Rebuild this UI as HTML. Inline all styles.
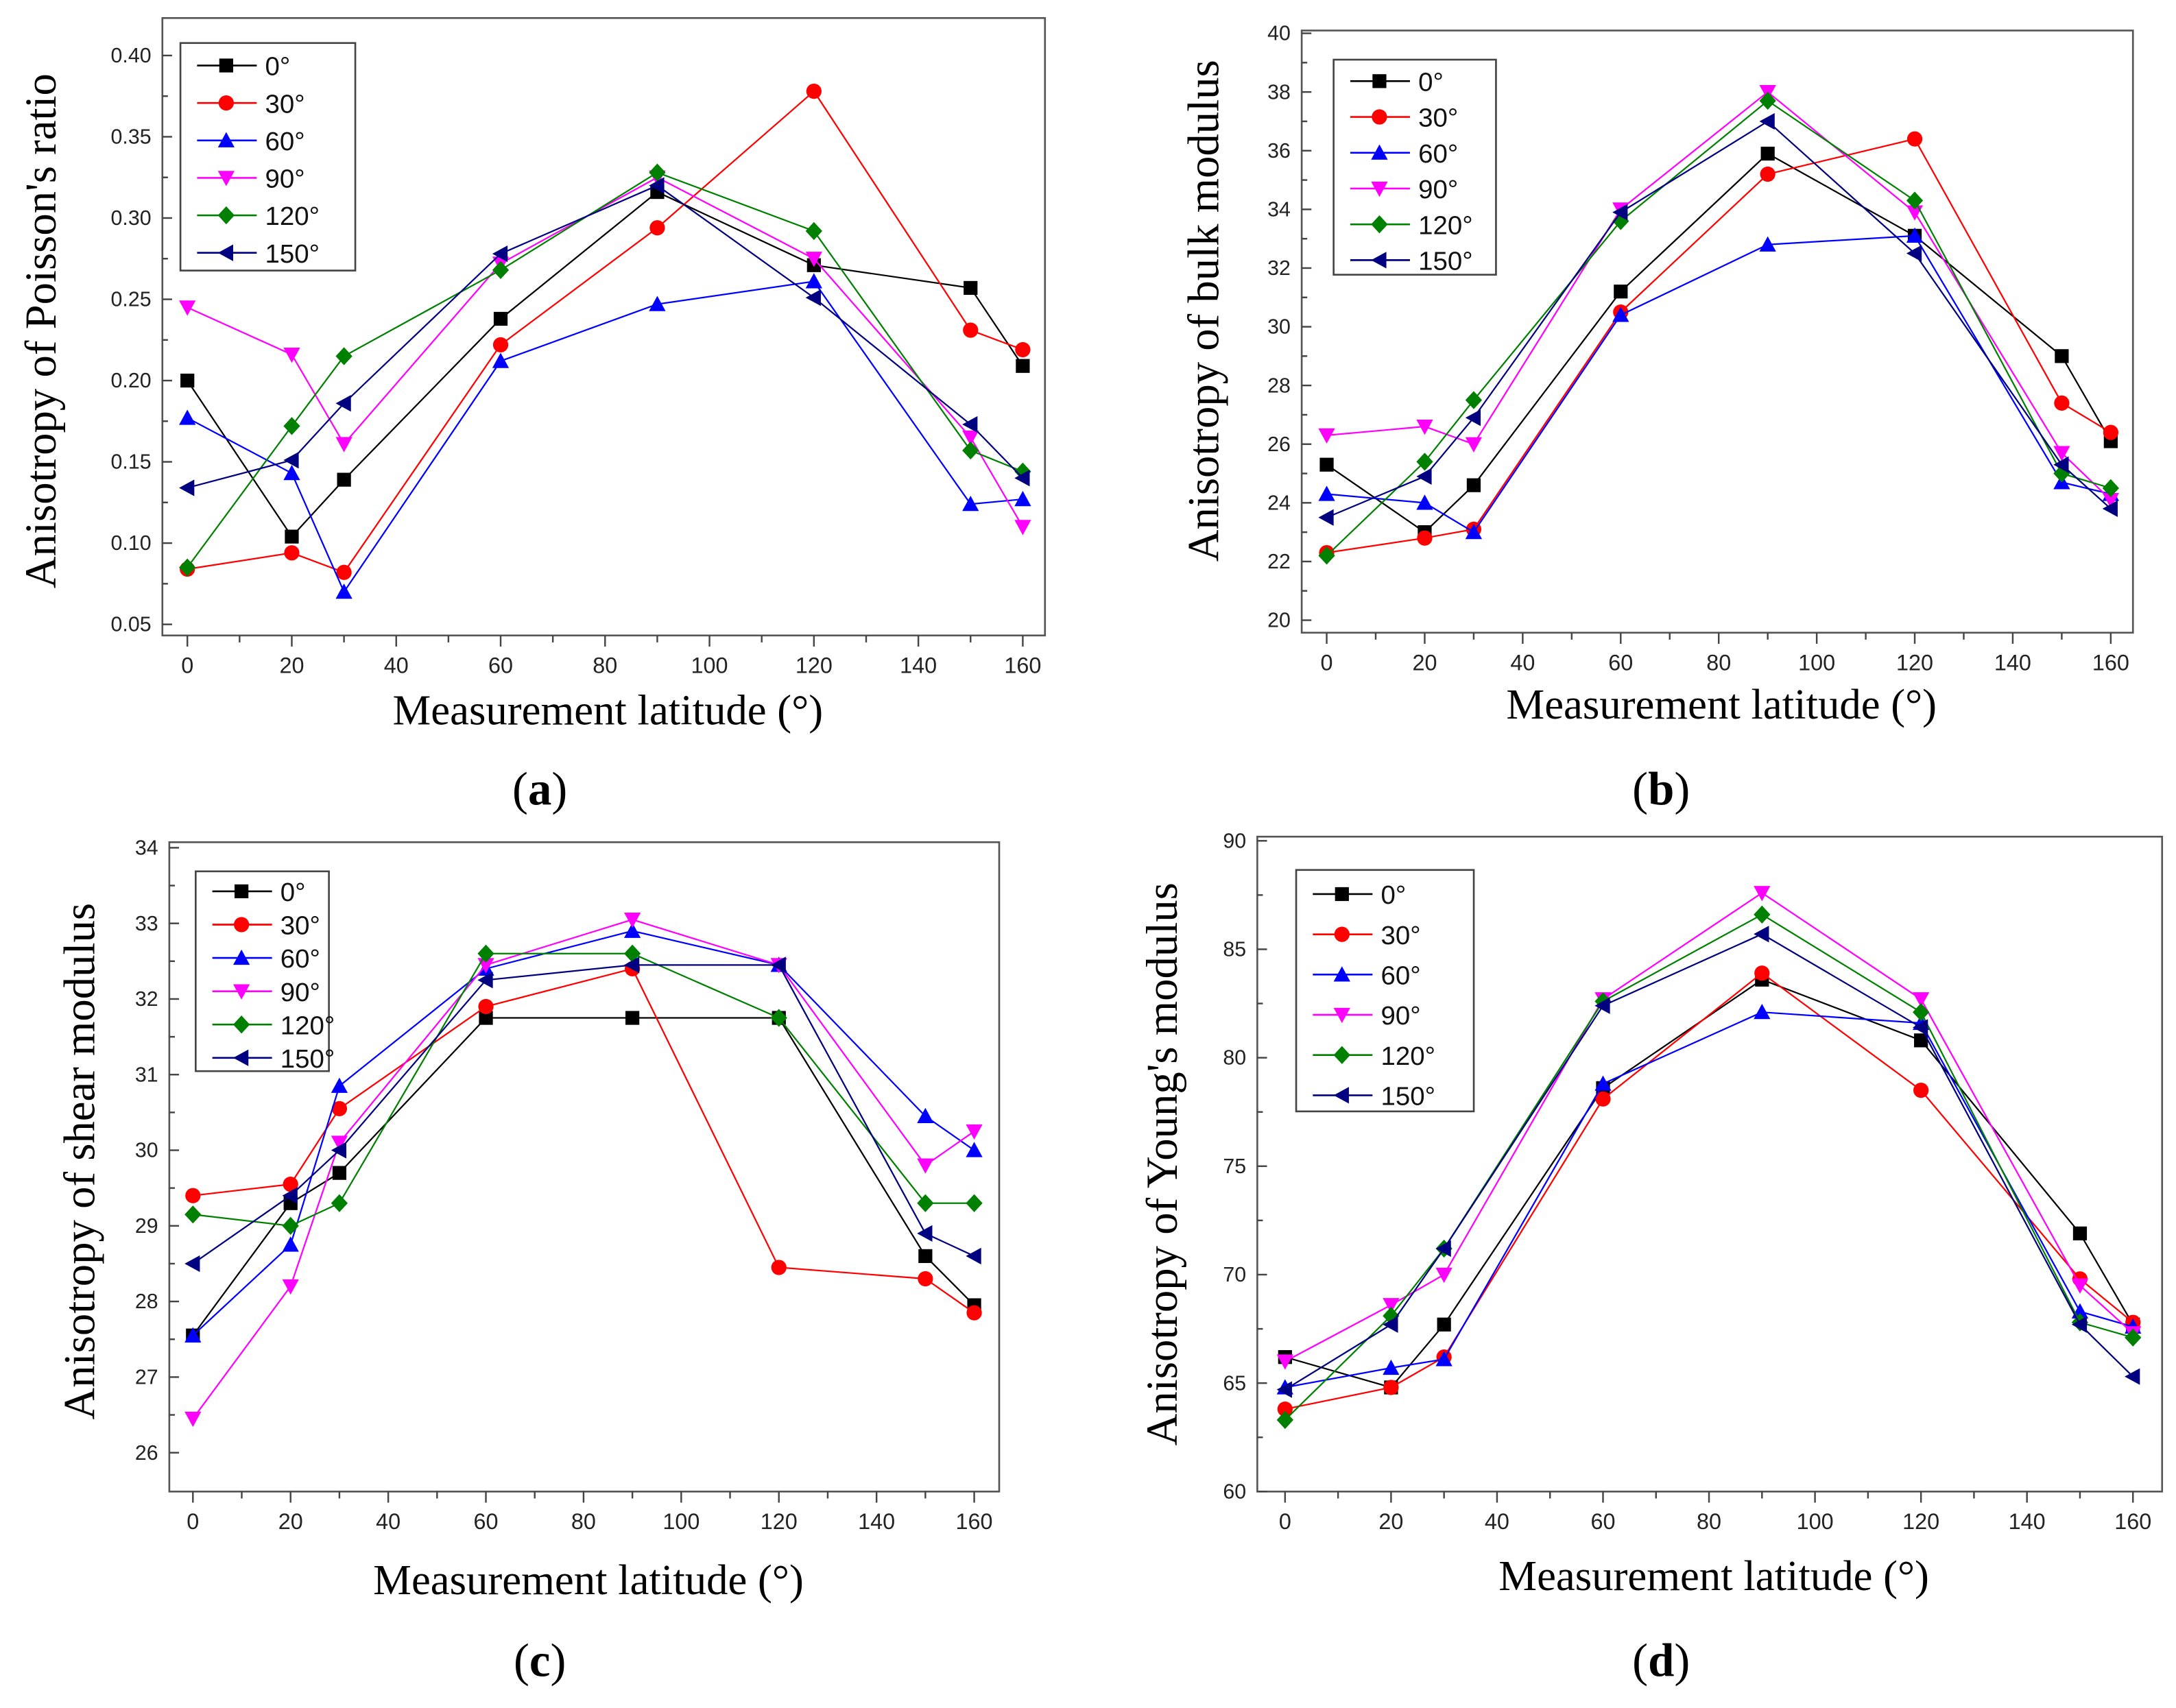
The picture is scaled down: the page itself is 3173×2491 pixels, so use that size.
<!DOCTYPE html>
<html><head><meta charset="utf-8"><style>
html,body{margin:0;padding:0;background:#fff;}
svg{display:block;}
</style></head><body>
<svg id="fig" width="3173" height="2491" viewBox="0 0 1568 1231" xmlns="http://www.w3.org/2000/svg"></svg>
<script>
const xCats = [0,20,30,60,90,120,150,160];
const seriesNames = ["0°","30°","60°","90°","120°","150°"];
const xTicks = [0,20,40,60,80,100,120,140,160];

const aS0=[0.200,0.104,0.139,0.238,0.316,0.271,0.257,0.209];
const aS1=[0.084,0.094,0.082,0.222,0.294,0.378,0.231,0.219];
const aS2=[0.177,0.143,0.070,0.212,0.247,0.261,0.124,0.127];
const aS3=[0.245,0.216,0.161,0.272,0.325,0.275,0.165,0.110];
const aS4=[0.085,0.172,0.215,0.268,0.328,0.292,0.157,0.144];
const aS5=[0.134,0.151,0.186,0.278,0.320,0.251,0.173,0.140];
const aYTicks=[0.05,0.10,0.15,0.20,0.25,0.30,0.35,0.40];

const bS0=[25.3,23.0,24.6,31.2,35.9,33.1,29.0,26.1];
const bS1=[22.3,22.8,23.1,30.5,35.2,36.4,27.4,26.4];
const bS2=[24.3,24.0,23.0,30.4,32.8,33.1,24.7,24.3];
const bS3=[26.3,26.6,26.0,34.0,38.0,33.9,25.7,24.1];
const bS4=[22.2,25.4,27.5,33.6,37.7,34.3,25.0,24.5];
const bS5=[23.5,24.9,26.9,33.9,37.0,32.5,25.3,23.8];
const bYTicks=[20,22,24,26,28,30,32,34,36,38,40];

const cS0=[27.55,29.3,29.7,31.75,31.75,31.75,28.6,27.95];
const cS1=[29.4,29.55,30.55,31.9,32.4,28.45,28.3,27.85];
const cS2=[27.55,28.75,30.85,32.4,32.9,32.45,30.45,30.0];
const cS3=[26.45,28.2,30.1,32.45,33.05,32.45,29.8,30.25];
const cS4=[29.15,29.0,29.3,32.6,32.6,31.75,29.3,29.3];
const cS5=[28.5,29.4,30.0,32.25,32.45,32.45,28.9,28.6];
const cYTicks=[26,27,28,29,30,31,32,33,34];

const dS0=[66.2,64.8,67.7,78.6,83.6,80.8,71.9,67.7];
const dS1=[63.8,64.8,66.2,78.1,83.9,78.5,69.8,67.8];
const dS2=[64.8,65.7,66.1,78.8,82.1,81.6,68.3,67.6];
const dS3=[66.0,68.6,70.0,82.7,87.6,82.7,69.5,67.3];
const dS4=[63.3,68.1,71.2,82.6,86.6,82.1,67.8,67.1];
const dS5=[64.7,67.7,71.2,82.4,85.7,81.4,67.7,65.3];
const dYTicks=[60,65,70,75,80,85,90];

const colors=["#000000","#ff0000","#0000ff","#ff00ff","#008000","#000080"];
const NS="http://www.w3.org/2000/svg";
const svg=document.getElementById('fig');
function mk(tag,attrs,parent){const e=document.createElementNS(NS,tag);for(const k in attrs)e.setAttribute(k,attrs[k]);(parent||svg).appendChild(e);return e;}

function marker(g,type,x,y,c,s){
  let e;
  if(type===0) e=mk('rect',{x:x-s,y:y-s,width:2*s,height:2*s,fill:c},g);
  else if(type===1) e=mk('circle',{cx:x,cy:y,r:s+0.5,fill:c},g);
  else if(type===2) e=mk('polygon',{points:`${x},${y-s-1} ${x-s-1},${y+s} ${x+s+1},${y+s}`,fill:c},g);
  else if(type===3) e=mk('polygon',{points:`${x},${y+s+1} ${x-s-1},${y-s} ${x+s+1},${y-s}`,fill:c},g);
  else if(type===4) e=mk('polygon',{points:`${x},${y-s-1.5} ${x+s+1},${y} ${x},${y+s+1.5} ${x-s-1},${y}`,fill:c},g);
  else e=mk('polygon',{points:`${x-s-1},${y} ${x+s},${y-s-1} ${x+s},${y+s+1}`,fill:c},g);
  return e;
}

function panel(p){
  const g=mk('g',{});
  
  
  const X=v=>p.x0+(v-0)*(p.x160-p.x0)/160;
  const Y=v=>p.yb+(v-p.ymin)*(p.yt-p.yb)/(p.ymax-p.ymin);
  const frame=mk('rect',{x:p.L,y:p.T,width:p.R-p.L,height:p.B-p.T,fill:'none',stroke:'#555',"stroke-width":1.3},g);
  
  
  for(let v=0;v<=160;v+=10){
    const major=v%20===0;
    mk('line',{x1:X(v),x2:X(v),y1:p.B,y2:p.B+(major?8:5),stroke:'#444',"stroke-width":1.2},g);
  }
  xTicks.forEach(v=>{
    const t=mk('text',{x:X(v),y:p.B+27,"text-anchor":"middle","font-size":16,"font-family":"Liberation Sans, sans-serif",fill:"#222"},g);
    t.textContent=v;
    
    
  });
  const yt=p.yticks;
  const step=yt[1]-yt[0];
  for(let i=0;i<yt.length;i++){
    const v=yt[i];
    mk('line',{x1:p.L,x2:p.L+7,y1:Y(v),y2:Y(v),stroke:'#444',"stroke-width":1.2},g);
    if(i<yt.length-1) mk('line',{x1:p.L,x2:p.L+4,y1:Y(v+step/2),y2:Y(v+step/2),stroke:'#444',"stroke-width":1.2},g);
    const t=mk('text',{x:p.L-8,y:Y(v)+5,"text-anchor":"end","font-size":15,"font-family":"Liberation Sans, sans-serif",fill:"#222"},g);
    t.textContent=p.dec?v.toFixed(p.dec):v;
    
    
  }
  p.series.forEach((s,i)=>{
    const sg=mk('g',{},g);
    
    
    const pts=s.map((v,j)=>X(xCats[j])+','+Y(v)).join(' ');
    mk('polyline',{points:pts,fill:'none',stroke:colors[i],"stroke-width":1.1},sg);
    s.forEach((v,j)=>{
      const m=marker(sg,i,X(xCats[j]),Y(v),colors[i],5);
      
      
    });
  });
  const lg=mk('g',{},g);
  
  
  mk('rect',{x:p.lx,y:p.ly,width:p.lw,height:p.lh,fill:'#fff',stroke:'#444',"stroke-width":1.3},lg);
  seriesNames.forEach((n,i)=>{
    const yy=p.ly+p.lsp*0.6+i*p.lsp;
    const e=mk('g',{},lg);
    
    
    mk('line',{x1:p.lx+12,x2:p.lx+55,y1:yy,y2:yy,stroke:colors[i],"stroke-width":1.3},e);
    marker(e,i,p.lx+33,yy,colors[i],5);
    const t=mk('text',{x:p.lx+61,y:yy+7,"font-size":19,"font-family":"Liberation Sans, sans-serif",fill:"#111"},e);
    t.textContent=n;
  });
  const xt=mk('text',{x:(p.L+p.R)/2+3,y:p.xty,"text-anchor":"middle","font-size":31,"font-family":"Liberation Serif, serif",fill:"#000"},g);
  xt.textContent="Measurement latitude (°)";
  
  
  const ytx=p.ytx, yty=(p.T+p.B)/2+p.ydy;
  const yT=mk('text',{x:ytx,y:yty,"text-anchor":"middle","font-size":32,"font-family":"Liberation Serif, serif",fill:"#000",transform:`rotate(-90 ${ytx} ${yty})`},g);
  yT.textContent=p.ytitle;
  
  
  const lab=mk('text',{x:p.labx,y:p.laby,"text-anchor":"middle","font-size":34,"font-family":"Liberation Serif, serif",fill:"#000"},g);
  lab.innerHTML='(<tspan font-weight="bold">'+p.id+'</tspan>)';
  
  
}

panel({id:'a',L:117,R:753,T:13,B:458,x0:135,x160:737,ymin:0.05,ymax:0.40,yb:450,yt:40,yticks:aYTicks,dec:2,
  series:[aS0,aS1,aS2,aS3,aS4,aS5],lx:130,ly:31,lw:126,lh:164,lsp:27,ytitle:"Anisotropy of Poisson's ratio",ytx:40,ydy:3,xty:522,labx:389,laby:580});
panel({id:'b',L:938,R:1537,T:22,B:456,x0:956,x160:1521,ymin:20,ymax:40,yb:447,yt:24,yticks:bYTicks,dec:0,
  series:[bS0,bS1,bS2,bS3,bS4,bS5],lx:961,ly:43,lw:117,lh:155,lsp:25.8,ytitle:"Anisotropy of bulk modulus",ytx:878,ydy:-15,xty:518,labx:1197,laby:580});
panel({id:'c',L:122,R:720,T:607,B:1075,x0:139,x160:702,ymin:26,ymax:34,yb:1047,yt:611,yticks:cYTicks,dec:0,
  series:[cS0,cS1,cS2,cS3,cS4,cS5],lx:141,ly:628,lw:96,lh:144,lsp:24,ytitle:"Anisotropy of shear modulus",ytx:68,ydy:-4,xty:1149,labx:389,laby:1208});
panel({id:'d',L:906,R:1558,T:603,B:1075,x0:926,x160:1537,ymin:60,ymax:90,yb:1075,yt:606,yticks:dYTicks,dec:0,
  series:[dS0,dS1,dS2,dS3,dS4,dS5],lx:934,ly:627,lw:128,lh:174,lsp:29,ytitle:"Anisotropy of Young's modulus",ytx:848,ydy:0,xty:1146,labx:1197,laby:1208});
</script>
</body></html>
